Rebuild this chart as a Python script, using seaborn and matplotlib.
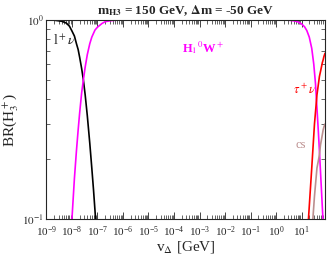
import numpy as np
import pandas as pd
import matplotlib
matplotlib.use("Agg")
import matplotlib.pyplot as plt
import seaborn as sns

# values (v_Delta in GeV, branching ratio)
v_lnu = [1e-9, 2e-9, 4e-9, 6e-9, 8e-9, 1e-8, 1.25e-8, 1.5e-8, 1.75e-8, 2e-8, 2.4e-8,
         2.8e-8, 3.3e-8, 4e-8, 5e-8, 6e-8, 7e-8, 8e-8, 9e-8, 1e-7]
br_lnu = [1.0, 0.998, 0.985, 0.965, 0.93, 0.88, 0.83, 0.76, 0.71, 0.65, 0.57,
          0.50, 0.42, 0.33, 0.24, 0.18, 0.14, 0.11, 0.088, 0.075]

v_h1w = [8e-9, 1e-8, 1.25e-8, 1.5e-8, 1.75e-8, 2e-8, 2.4e-8, 2.8e-8, 3.3e-8, 4e-8, 5e-8,
         6e-8, 8e-8, 1e-7, 1.5e-7, 2e-7, 3e-7, 5e-7, 1e-6, 1e-3, 1.0,
         2, 3, 5, 7, 10, 13, 16, 20, 25, 30, 35, 40, 45, 50, 60, 70, 83]
br_h1w = [0.07, 0.10, 0.16, 0.22, 0.28, 0.34, 0.43, 0.50, 0.58, 0.67, 0.76,
          0.82, 0.89, 0.92, 0.96, 0.98, 0.99, 0.997, 1.0, 1.0, 1.0,
          0.999, 0.998, 0.99, 0.98, 0.955, 0.925, 0.885, 0.82, 0.72, 0.60, 0.48, 0.36, 0.28, 0.22, 0.14, 0.095, 0.05]

v_taunu = [15, 18.6, 25, 32, 40, 45, 50, 55, 60, 65, 70, 75, 83]
br_taunu = [0.065, 0.10, 0.18, 0.30, 0.42, 0.47, 0.52, 0.55, 0.58, 0.61, 0.63, 0.655, 0.68]

v_cs = [22, 27.7, 32, 40, 45, 50, 55, 60, 65, 70, 75, 83]
br_cs = [0.065, 0.10, 0.13, 0.18, 0.195, 0.21, 0.235, 0.25, 0.265, 0.28, 0.29, 0.30]

sns.set_style("ticks")
plt.rcParams['font.family'] = ['Liberation Serif', 'DejaVu Serif']
plt.rcParams['mathtext.fontset'] = 'stix'

fig = plt.figure(figsize=(3.27, 2.56), dpi=100)
ax = fig.add_axes([0.142, 0.145, 0.852, 0.777])

sns.lineplot(x=v_lnu, y=br_lnu, color='black', lw=1.2, ax=ax)
sns.lineplot(x=v_h1w, y=br_h1w, color='#ff00ff', lw=1.2, ax=ax)
sns.lineplot(x=v_taunu, y=br_taunu, color='red', lw=1.2, ax=ax)
sns.lineplot(x=v_cs, y=br_cs, color='#bc8f8f', lw=1.2, ax=ax)

ax.set_xscale('log')
ax.set_yscale('log')
ax.set_xlim(1e-9, 83)
ax.set_ylim(0.1, 1.0)

ax.xaxis.set_major_locator(matplotlib.ticker.LogLocator(base=10, numticks=20))
ax.xaxis.set_minor_locator(matplotlib.ticker.LogLocator(base=10, subs=np.arange(2, 10), numticks=20))
ax.yaxis.set_major_locator(matplotlib.ticker.FixedLocator([0.1, 1.0]))
ax.yaxis.set_major_formatter(matplotlib.ticker.FixedFormatter([r'$10^{-1}$', r'$10^{0}$']))
ax.yaxis.set_minor_locator(matplotlib.ticker.FixedLocator(np.arange(0.2, 1.0, 0.1)))
ax.yaxis.set_minor_formatter(matplotlib.ticker.NullFormatter())

ax.tick_params(which='both', direction='in', top=True, right=True, labelsize=8, pad=2)
ax.tick_params(axis='x', which='both', pad=4)
ax.tick_params(which='major', length=5, width=0.6)
ax.tick_params(which='minor', length=3, width=0.5)
for s in ax.spines.values():
    s.set_linewidth(0.8)

ax.set_xlabel(r'v$_\Delta$ [GeV]', fontsize=11, labelpad=0)
ax.set_ylabel(r'BR(H$_3^+$)', fontsize=11)
ax.yaxis.set_label_coords(-0.09, 0.5)
ax.set_title(r'm$_{\mathbf{H3}}$ = 150 GeV, $\mathbf{\Delta}$m = -50 GeV', fontsize=9.5, fontweight='bold', pad=4)

ax.text(1.8e-9, 0.79, r'l$^+$$\nu$', fontsize=10, va='center', ha='left')
ax.text(2e-4, 0.73, r'H$_1$$^0$W$^+$', fontsize=9, va='center', ha='left', color='#ff00ff', fontweight='bold')
ax.text(4.7, 0.445, r'$\tau^+\nu$', fontsize=9, va='center', ha='left', color='red')
ax.text(5.6, 0.235, 'cs', fontsize=9, va='center', ha='left', color='#bc8f8f')

plt.savefig('out.png', dpi=100)
